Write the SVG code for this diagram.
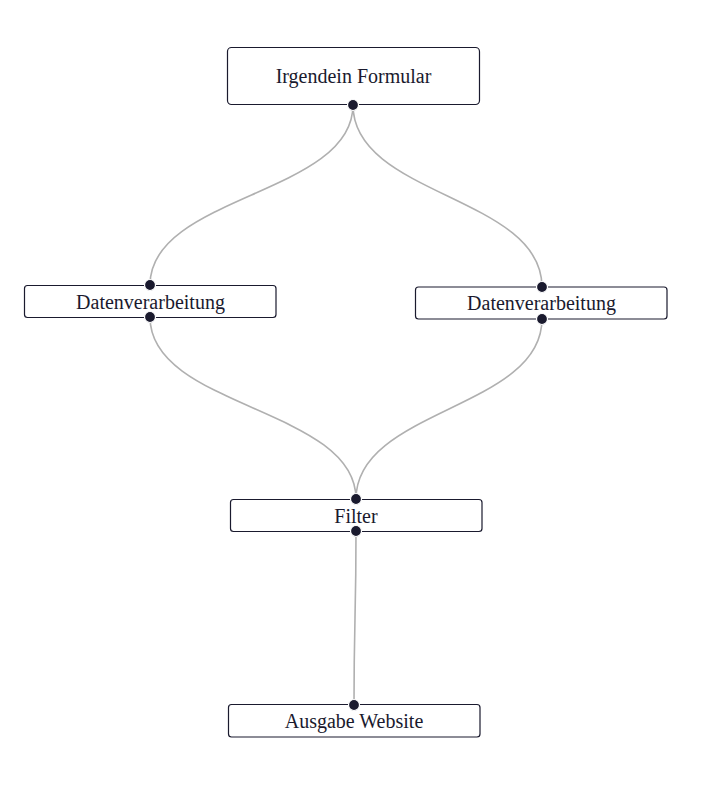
<svg xmlns="http://www.w3.org/2000/svg" width="702" height="787" viewBox="0 0 702 787">
<style>
.node rect{fill:#fff;stroke:#1a1a2e;stroke-width:1.2}
.node text{font-family:"Liberation Serif","Times New Roman",serif;font-size:20px;fill:#1a1a2e;text-anchor:middle}
.edge{fill:none;stroke:#b0b0b0;stroke-width:1.6}
.port{fill:#1a1a2e;stroke:#fff;stroke-width:1.2}
</style>
<rect width="702" height="787" fill="#fff"/>
<g id="connectors">
<path class="edge" d="M353,105 C353,195 150,195 150,285"/>
<path class="edge" d="M353,105 C353,196 542,196 542,287"/>
<path class="edge" d="M150,317 C150,408 356,408 356,499"/>
<path class="edge" d="M542,319 C542,409 356,409 356,499"/>
<path class="edge" d="M356,531 C356,618 354,618 354,705"/>
</g>
<g id="node-formular" class="node">
<rect x="227.5" y="47.5" width="252" height="57" rx="4"/>
<text x="353.5" y="83">Irgendein Formular</text>
</g>
<g id="node-daten1" class="node">
<rect x="24.5" y="285.5" width="251.5" height="32" rx="3"/>
<text x="150.5" y="308.5">Datenverarbeitung</text>
</g>
<g id="node-daten2" class="node">
<rect x="415.5" y="287" width="251.5" height="32" rx="3"/>
<text x="541.5" y="310">Datenverarbeitung</text>
</g>
<g id="node-filter" class="node">
<rect x="230.5" y="499.5" width="251.5" height="32" rx="3"/>
<text x="356" y="522.5">Filter</text>
</g>
<g id="node-ausgabe" class="node">
<rect x="228.5" y="704.5" width="251.5" height="32.5" rx="3"/>
<text x="354" y="728">Ausgabe Website</text>
</g>
<g id="ports">
<circle class="port" cx="353" cy="105" r="5.5"/>
<circle class="port" cx="150" cy="285" r="5.5"/>
<circle class="port" cx="150" cy="317" r="5.5"/>
<circle class="port" cx="542" cy="287" r="5.5"/>
<circle class="port" cx="542" cy="319" r="5.5"/>
<circle class="port" cx="356" cy="499" r="5.5"/>
<circle class="port" cx="356" cy="531" r="5.5"/>
<circle class="port" cx="354" cy="705" r="5.5"/>
</g>
</svg>
